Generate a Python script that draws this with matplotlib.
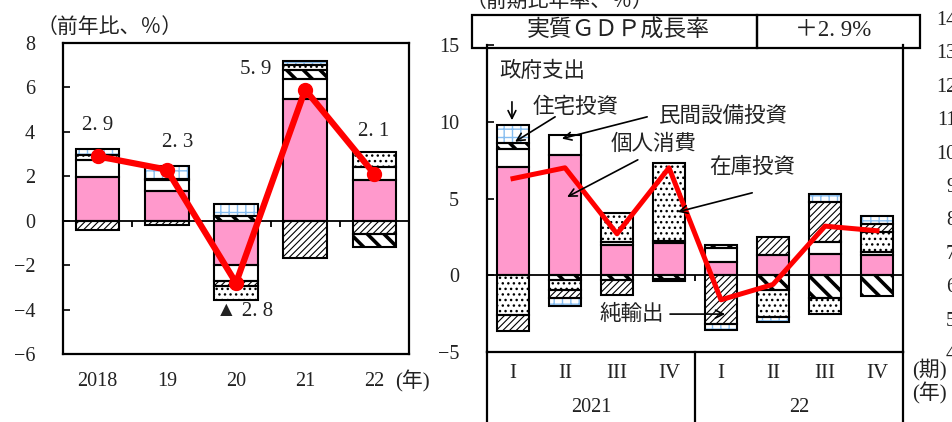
import numpy as np
import matplotlib.pyplot as plt
from matplotlib.patches import Rectangle

plt.rcParams['font.family'] = ['Liberation Serif', 'Noto Sans CJK JP', 'DejaVu Sans']
plt.rcParams['text.color'] = '#222222'
plt.rcParams['axes.linewidth'] = 1.6

# ---- annual (left panel) ----
years = ["2018", "19", "20", "21", "22"]
gdp_annual = [2.9, 2.3, -2.8, 5.9, 2.1]
annual_labels = ["2. 9", "2. 3", "▲ 2. 8", "5. 9", "2. 1"]
cons_a = [1.95, 1.35, -2.0, 5.5, 1.85]
bus_a = [0.8, 0.5, -0.7, 0.9, 0.55]
netex_a = [-0.4, -0.2, -0.25, -1.7, -0.6]
res_a = [0.0, 0.0, 0.23, 0.4, -0.6]
inv_a = [0.2, 0.03, -0.6, 0.22, 0.7]
gov_a = [0.3, 0.57, 0.5, 0.15, 0.0]

# ---- quarterly (right panel) ----
quarters = ["I", "II", "III", "IV", "I", "II", "III", "IV"]
q_years = ["2021", "22"]
gdp_q = [6.3, 7.0, 2.7, 7.0, -1.6, -0.6, 3.2, 2.9]
cons_q = [7.05, 7.85, 2.0, 2.1, 0.85, 1.3, 1.4, 1.35]
bus_q = [1.15, 1.3, 0.15, 0.1, 0.95, 0.0, 0.75, 0.15]
res_q = [0.4, -0.3, -0.3, -0.25, 0.2, -0.95, -1.5, -1.35]
inv_q = [-2.6, -0.65, 1.9, 5.1, 0.0, -1.8, -1.05, 1.3]
netex_q = [-1.0, -0.5, -1.0, -0.15, -3.2, 1.2, 2.6, 0.55]
gov_q = [1.2, -0.55, 0.0, 0.0, -0.35, -0.3, 0.55, 0.5]

header_labels = ["実質ＧＤＰ成長率", "＋2. 9%"]
side_ticks = [4, 5, 6, 7, 8, 9, 10, 11, 12, 13, 14]

PINK = "#FF99CC"
BLUE = "#86BDF0"
RED = "#FF0000"
styles = {
    "cons": dict(face=PINK, hatch=None, hc="black", hlw=1.0),
    "bus": dict(face="white", hatch=None, hc="black", hlw=1.0),
    "res": dict(face="white", hatch="\\\\", hc="black", hlw=2.6),
    "inv": dict(face="white", hatch="...", hc="black", hlw=1.0),
    "netex": dict(face="white", hatch="/////", hc="black", hlw=0.8),
    "gov": dict(face="white", hatch="++", hc=BLUE, hlw=1.0),
}


def draw_stack(ax, x, parts, width):
    pos_base = np.zeros(len(x))
    neg_base = np.zeros(len(x))
    for vals, key in parts:
        st = styles[key]
        vals = np.asarray(vals, float)
        bottom = np.where(vals >= 0, pos_base, neg_base)
        m = vals != 0
        bars = ax.bar(x[m], vals[m], width, bottom=bottom[m], color=st["face"],
                      edgecolor=st["hc"], linewidth=0, hatch=st["hatch"], zorder=2)
        for p in bars:
            if hasattr(p, "set_hatch_linewidth"):
                p.set_hatch_linewidth(st["hlw"])
        ax.bar(x[m], vals[m], width, bottom=bottom[m], fill=False,
               edgecolor="black", linewidth=1.5, zorder=3)
        pos_base += np.where(vals > 0, vals, 0)
        neg_base += np.where(vals < 0, vals, 0)


W, H = 953, 422
fig = plt.figure(figsize=(W / 100, H / 100), dpi=100)


def fx(px):
    return px / W


def fy(py):
    return 1 - py / H


# ---------------- left panel ----------------
ax1 = fig.add_axes([fx(63), fy(354), fx(409) - fx(63), fy(43) - fy(354)])
xa = np.arange(len(years))
draw_stack(ax1, xa, [(cons_a, "cons"), (bus_a, "bus"), (netex_a, "netex"),
                     (res_a, "res"), (inv_a, "inv"), (gov_a, "gov")], 0.63)
ax1.axhline(0, color="black", lw=1.3, zorder=4)
ax1.vlines(xa[:-1] + 0.5, -0.27, 0, color="black", lw=1.3, zorder=4)
ax1.plot(xa, gdp_annual, color=RED, lw=4.5, marker="o", markersize=10, zorder=6)
lab_pos = [(0, 4.3), (1.16, 3.5), (2.12, -4.1), (2.28, 6.8), (3.99, 4.0)]
for (lx, ly), t in zip(lab_pos, annual_labels):
    ax1.text(lx, ly, t, ha="center", va="center", fontsize=15)
ax1.set_xlim(-0.5, 4.5)
ax1.set_ylim(-6, 8)
ax1.set_yticks(range(-6, 9, 2))
ax1.set_xticks(xa)
ax1.set_xticklabels(years)
ax1.tick_params(axis="y", direction="in", length=5, width=1.2, labelsize=14.5,
                pad=20, labelcolor="#222222")
ax1.tick_params(axis="x", length=0, labelsize=14.5, pad=13, labelcolor="#222222")
fig.text(fx(110), fy(28), "（前年比、％）", ha="center", va="center", fontsize=15)
fig.text(fx(395), fy(381), "(年)", ha="left", va="center", fontsize=15)

# ---------------- right panel ----------------
ax2 = fig.add_axes([fx(487), fy(352), fx(903) - fx(487), fy(45) - fy(352)])
xq = np.arange(len(quarters))
draw_stack(ax2, xq, [(cons_q, "cons"), (bus_q, "bus"), (res_q, "res"),
                     (inv_q, "inv"), (netex_q, "netex"), (gov_q, "gov")], 0.63)
ax2.axhline(0, color="black", lw=1.3, zorder=4)
ax2.vlines([3.5], -0.4, 0, color="black", lw=1.3, zorder=4)
ax2.plot(xq, gdp_q, color=RED, lw=3.6, zorder=6)
ax2.set_xlim(-0.5, 7.5)
ax2.set_ylim(-5, 15)
ax2.set_yticks([-5, 0, 5, 10, 15])
ax2.set_xticks([])
ax2.spines["top"].set_visible(False)
ax2.tick_params(axis="y", direction="in", length=5, width=1.2, labelsize=14.5,
                pad=20, labelcolor="#222222")

tr = ax2.get_xaxis_transform()
for xv in [-0.5, 3.5, 7.5]:
    ax2.plot([xv, xv], [0, -0.3], color="black", lw=1.6, transform=tr, clip_on=False)
for i, q in enumerate(quarters):
    ax2.text(xq[i], -0.07, q, transform=tr, ha="center", va="center", fontsize=15)
for j, yl in enumerate(q_years):
    ax2.text(1.5 + 4 * j, -0.18, yl, transform=tr, ha="center", va="center", fontsize=14.5)
fig.text(fx(912), fy(370), "(期)", ha="left", va="center", fontsize=15)
fig.text(fx(912), fy(393), "(年)", ha="left", va="center", fontsize=15)

# component call-outs
arrow = dict(arrowstyle="->", lw=1.2, color="black", shrinkA=0, shrinkB=0,
             mutation_scale=14)
notes = [
    ("政府支出", (0.56, 13.26), (-0.02, 11.3), (-0.02, 10.1)),
    ("住宅投資", (1.21, 10.9), (0.81, 10.32), (0.04, 8.7)),
    ("民間設備投資", (4.04, 10.3), (2.58, 10.32), (0.94, 8.9)),
    ("個人消費", (2.71, 8.5), (2.4, 7.52), (1.04, 5.1)),
    ("在庫投資", (4.6, 7.0), (4.6, 5.37), (3.17, 4.13)),
    ("純輸出", (2.29, -2.6), (3.02, -2.53), (4.08, -2.53)),
]
for txt, tpos, a0, a1 in notes:
    ax2.text(tpos[0], tpos[1], txt, ha="center", va="center", fontsize=15.5, zorder=7)
    ax2.annotate("", xy=a1, xytext=a0, arrowprops=arrow, zorder=7)

# header table
for x0, x1 in [(472, 757), (757, 920)]:
    fig.add_artist(Rectangle((fx(x0), fy(48)), fx(x1) - fx(x0), fy(15) - fy(48),
                             transform=fig.transFigure, fill=False,
                             edgecolor="black", lw=1.6))
fig.text(fx(618), fy(31), header_labels[0], ha="center", va="center", fontsize=16.5)
fig.text(fx(833), fy(31), header_labels[1], ha="center", va="center", fontsize=16.5)
fig.text(fx(466), fy(3), "（前期比年率、％）", ha="left", va="center", fontsize=15)

# clipped axis of the neighbouring chart at the right edge
ax3 = fig.add_axes([fx(959), fy(352), 0.05, fy(18) - fy(352)])
ax3.set_ylim(4, 14)
ax3.set_yticks(side_ticks)
ax3.set_xticks([])
for s in ax3.spines.values():
    s.set_visible(False)
ax3.patch.set_visible(False)
ax3.tick_params(axis="y", length=0, pad=2, labelsize=14.5, labelcolor="#222222")

fig.savefig("out.png", dpi=100)
